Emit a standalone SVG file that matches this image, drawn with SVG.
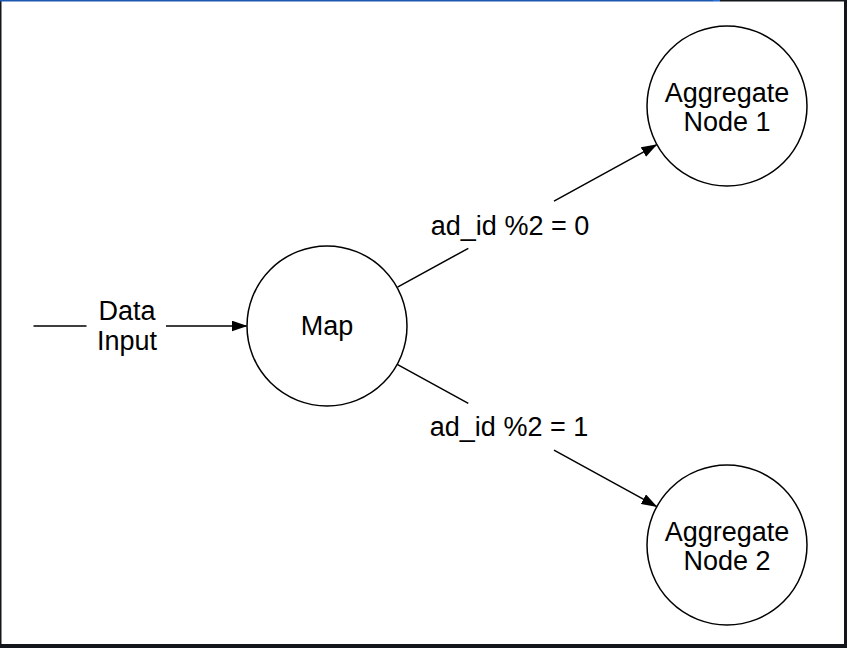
<svg xmlns="http://www.w3.org/2000/svg" width="847" height="648" viewBox="0 0 847 648">
  <style>
    .node { fill: #ffffff; stroke: #000000; stroke-width: 1.5; }
    .lbl { font-family: "Liberation Sans", Arial, Helvetica, sans-serif; font-size: 27px; fill: #000000; text-anchor: middle; }
    .edge { fill: none; stroke: #000000; stroke-width: 1.5; }
    .frame { fill: #13161b; }
  </style>
  <defs>
    <marker id="arrow" viewBox="0 0 16 11" refX="15" refY="5.5" markerWidth="16" markerHeight="11" markerUnits="userSpaceOnUse" orient="auto">
      <path d="M0,0 L16,5.5 L0,11 Z" fill="#000000"/>
    </marker>
  </defs>
  <rect width="847" height="648" fill="#ffffff"/>
  <g id="frame">
    <rect class="frame" x="0" y="0" width="1.5" height="648"/>
    <rect class="frame" x="844" y="0" width="3" height="648"/>
    <rect class="frame" x="0" y="644" width="847" height="4"/>
    <rect x="0" y="0" width="713" height="1.5" fill="#1d58b0"/>
    <rect x="713" y="0" width="7" height="1.5" fill="#2a6fd6"/>
    <rect class="frame" x="720" y="0" width="127" height="1.5"/>
  </g>
  <g id="connectors">
    <path id="edge-input" class="edge" d="M33.5,326 L86.5,326 M166,326 L246.5,326" marker-end="url(#arrow)"/>
    <text class="lbl" x="127" y="320">Data</text>
    <text class="lbl" x="127" y="350">Input</text>
    <path id="edge-agg1" class="edge" d="M397.5,287.2 L468.3,248.3 M554,201.1 L656.5,144.8" marker-end="url(#arrow)"/>
    <text class="lbl" x="510" y="235">ad_id %2 = 0</text>
    <path id="edge-agg2" class="edge" d="M397.2,364.4 L468.3,403.3 M554,450.2 L656.5,506.4" marker-end="url(#arrow)"/>
    <text class="lbl" x="509" y="436">ad_id %2 = 1</text>
  </g>
  <g id="node-map">
    <circle class="node" cx="327" cy="326" r="80"/>
    <text class="lbl" x="327" y="335">Map</text>
  </g>
  <g id="node-agg1">
    <circle class="node" cx="727" cy="106" r="80"/>
    <text class="lbl" x="727" y="101.5">Aggregate</text>
    <text class="lbl" x="727" y="131">Node 1</text>
  </g>
  <g id="node-agg2">
    <circle class="node" cx="727" cy="545" r="80"/>
    <text class="lbl" x="727" y="540.5">Aggregate</text>
    <text class="lbl" x="727" y="570">Node 2</text>
  </g>
</svg>
